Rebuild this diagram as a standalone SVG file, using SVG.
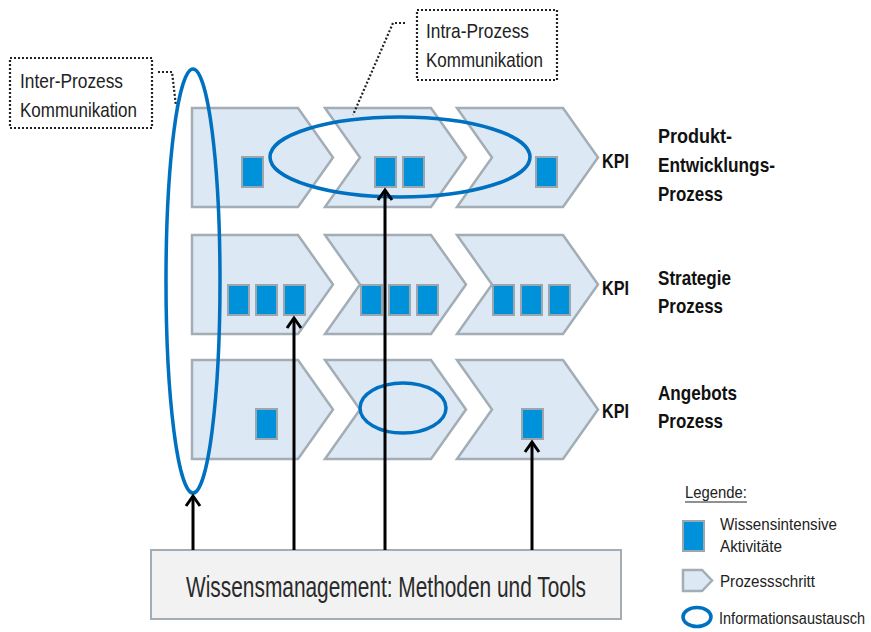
<svg xmlns="http://www.w3.org/2000/svg" width="871" height="632" viewBox="0 0 871 632">
<style>
.chev{fill:#DCE8F4;stroke:#A2ADB5;stroke-width:2.5;stroke-linejoin:miter}
.sq{fill:#0091DB;stroke:#9BA6AE;stroke-width:2}
.ell{fill:none;stroke:#0070C0;stroke-width:3.5}
.lbl{font-family:"Liberation Sans Narrow","Liberation Sans",Arial,sans-serif;font-size:21px;fill:#222}
.b{font-weight:bold;fill:#111}
.lg{font-family:"Liberation Sans Narrow","Liberation Sans",Arial,sans-serif;font-size:16px;fill:#222}
.dot{fill:none;stroke:#222;stroke-width:2.2;stroke-dasharray:2 2}
.arr{fill:none;stroke:#000;stroke-width:3;marker-end:url(#ah)}
</style>
<defs>
<marker id="ah" markerUnits="userSpaceOnUse" markerWidth="20" markerHeight="20" viewBox="-14 -10 18 20" refX="0" refY="0" orient="auto">
<path d="M-10,-7 L0,0 L-10,7" fill="none" stroke="#000" stroke-width="3"/>
</marker>
</defs>
<rect width="871" height="632" fill="#fff"/>

<!-- Row 1: Produkt-Entwicklungs-Prozess -->
<g id="row1">
<path class="chev" d="M192,108 H298 L333,157.5 L298,207 H192 Z"/>
<path class="chev" d="M325,108 H431 L466,157.5 L431,207 H325 L360,157.5 Z"/>
<path class="chev" d="M457,108 H563 L598,157.5 L563,207 H457 L492,157.5 Z"/>
<rect class="sq" x="242" y="157" width="21" height="30"/>
<rect class="sq" x="375" y="157" width="21" height="30"/>
<rect class="sq" x="403" y="157" width="21" height="30"/>
<rect class="sq" x="536" y="157" width="21" height="30"/>
</g>
<!-- Row 2: Strategie Prozess -->
<g id="row2">
<path class="chev" d="M192,235 H298 L333,284.5 L298,334 H192 Z"/>
<path class="chev" d="M325,235 H431 L466,284.5 L431,334 H325 L360,284.5 Z"/>
<path class="chev" d="M457,235 H563 L598,284.5 L563,334 H457 L492,284.5 Z"/>
<rect class="sq" x="228" y="285" width="21" height="30"/>
<rect class="sq" x="256" y="285" width="21" height="30"/>
<rect class="sq" x="284" y="285" width="21" height="30"/>
<rect class="sq" x="361" y="285" width="21" height="30"/>
<rect class="sq" x="389" y="285" width="21" height="30"/>
<rect class="sq" x="417" y="285" width="21" height="30"/>
<rect class="sq" x="493" y="285" width="21" height="30"/>
<rect class="sq" x="521" y="285" width="21" height="30"/>
<rect class="sq" x="549" y="285" width="21" height="30"/>
</g>
<!-- Row 3: Angebots Prozess -->
<g id="row3">
<path class="chev" d="M192,360 H298 L333,409.5 L298,459 H192 Z"/>
<path class="chev" d="M325,360 H431 L466,409.5 L431,459 H325 L360,409.5 Z"/>
<path class="chev" d="M457,360 H563 L598,409.5 L563,459 H457 L492,409.5 Z"/>
<rect class="sq" x="256" y="409" width="21" height="30"/>
<rect class="sq" x="522" y="409" width="21" height="30"/>
</g>

<!-- Information exchange ellipses -->
<g id="exchange">
<ellipse class="ell" cx="193" cy="281" rx="27" ry="212"/>
<ellipse class="ell" cx="400" cy="157" rx="130" ry="40"/>
<ellipse class="ell" cx="403" cy="408" rx="43" ry="25"/>
</g>

<!-- Labels -->
<g id="kpi">
<text class="lbl b" x="602" y="168" textLength="27" lengthAdjust="spacingAndGlyphs">KPI</text>
<text class="lbl b" x="602" y="295" textLength="27" lengthAdjust="spacingAndGlyphs">KPI</text>
<text class="lbl b" x="602" y="418" textLength="27" lengthAdjust="spacingAndGlyphs">KPI</text>
</g>
<g id="process-names">
<text class="lbl b" x="658" y="143" textLength="74" lengthAdjust="spacingAndGlyphs">Produkt-</text>
<text class="lbl b" x="658" y="172" textLength="117" lengthAdjust="spacingAndGlyphs">Entwicklungs-</text>
<text class="lbl b" x="658" y="201" textLength="65" lengthAdjust="spacingAndGlyphs">Prozess</text>
<text class="lbl b" x="658" y="285" textLength="73" lengthAdjust="spacingAndGlyphs">Strategie</text>
<text class="lbl b" x="658" y="313" textLength="65" lengthAdjust="spacingAndGlyphs">Prozess</text>
<text class="lbl b" x="658" y="400" textLength="79" lengthAdjust="spacingAndGlyphs">Angebots</text>
<text class="lbl b" x="658" y="428" textLength="65" lengthAdjust="spacingAndGlyphs">Prozess</text>
</g>

<!-- Callouts -->
<g id="inter-callout">
<rect class="dot" x="10" y="58" width="142" height="70"/>
<text class="lbl" x="20" y="88" textLength="103" lengthAdjust="spacingAndGlyphs">Inter-Prozess</text>
<text class="lbl" x="20" y="117" textLength="117" lengthAdjust="spacingAndGlyphs">Kommunikation</text>
<path class="dot" d="M158,72 H172 L176,106"/>
</g>
<g id="intra-callout">
<rect class="dot" x="417" y="10" width="140" height="70"/>
<text class="lbl" x="426" y="38" textLength="103" lengthAdjust="spacingAndGlyphs">Intra-Prozess</text>
<text class="lbl" x="426" y="67" textLength="117" lengthAdjust="spacingAndGlyphs">Kommunikation</text>
<path class="dot" d="M405,23 H393 L353,115"/>
</g>

<!-- Knowledge management box -->
<g id="wm">
<rect x="151" y="550" width="470" height="69" fill="#F2F2F2" stroke="#A2ADB5" stroke-width="2"/>
<text x="386" y="597" text-anchor="middle" font-family="'Liberation Sans Narrow','Liberation Sans',Arial,sans-serif" font-size="29" fill="#2a2a2a" textLength="400" lengthAdjust="spacingAndGlyphs">Wissensmanagement: Methoden und Tools</text>
</g>

<!-- Connectors -->
<g id="connectors">
<line class="arr" x1="193" y1="550" x2="193" y2="496"/>
<line class="arr" x1="294" y1="550" x2="294" y2="318"/>
<line class="arr" x1="385" y1="550" x2="385" y2="190"/>
<line class="arr" x1="532" y1="550" x2="532" y2="442"/>
</g>

<!-- Legend -->
<g id="legend">
<text class="lg" x="685" y="498" textLength="62" lengthAdjust="spacingAndGlyphs">Legende:</text>
<line x1="685" y1="502" x2="747" y2="502" stroke="#222" stroke-width="1"/>
<rect class="sq" x="683" y="521" width="21" height="30"/>
<text class="lg" x="720" y="530" textLength="117" lengthAdjust="spacingAndGlyphs">Wissensintensive</text>
<text class="lg" x="720" y="552" textLength="62" lengthAdjust="spacingAndGlyphs">Aktivitäte</text>
<path class="chev" d="M683,570 H702 L712,580.5 L702,591 H683 Z"/>
<text class="lg" x="720" y="587" textLength="95" lengthAdjust="spacingAndGlyphs">Prozessschritt</text>
<ellipse class="ell" cx="697" cy="617" rx="14" ry="9.5"/>
<text class="lg" x="719" y="624" textLength="146" lengthAdjust="spacingAndGlyphs">Informationsaustausch</text>
</g>
</svg>
